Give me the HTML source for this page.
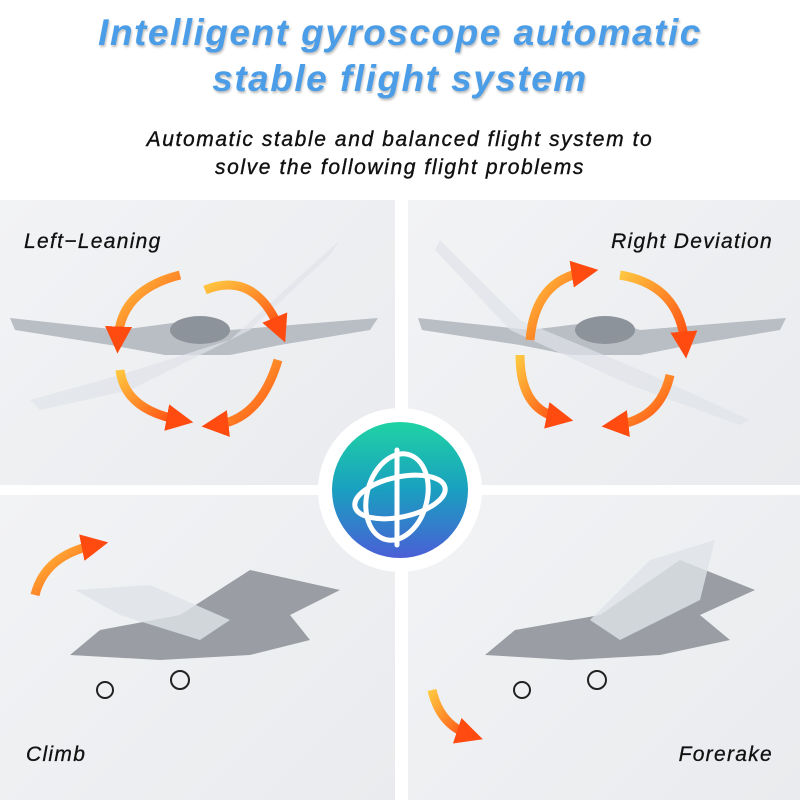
<!DOCTYPE html>
<html><head><style>
body{margin:0;width:800px;height:800px;background:#fff;overflow:hidden;position:relative;font-family:"Liberation Sans",sans-serif}
.t{position:absolute;left:0;width:800px;text-align:center;font-style:italic;font-weight:bold}
.h{color:#4a9de6;font-size:37px;letter-spacing:1.5px;text-shadow:1px 2px 2px rgba(0,0,0,.25)}
.s{color:#111;font-size:21px;font-weight:normal;letter-spacing:1.6px;-webkit-text-stroke:.4px #111}
.p{position:absolute;background:linear-gradient(135deg,#f2f3f5,#e9ebee)}
.l{position:absolute;font-style:italic;font-size:21px;color:#111;letter-spacing:1.3px;-webkit-text-stroke:.3px #111}
</style></head><body>
<div class="t h" style="top:12px">Intelligent gyroscope automatic</div>
<div class="t h" style="top:58px">stable flight system</div>
<div class="t s" style="top:128px">Automatic stable and balanced flight system to</div>
<div class="t s" style="top:156px">solve the following flight problems</div>
<div class="p" style="left:0;top:200px;width:395px;height:285px"></div>
<div class="p" style="left:408px;top:200px;width:392px;height:285px"></div>
<div class="p" style="left:0;top:495px;width:395px;height:305px"></div>
<div class="p" style="left:408px;top:495px;width:392px;height:305px"></div>
<svg style="position:absolute;left:0;top:0" width="800" height="800">
<defs>
<linearGradient id="g" x1="0" y1="0" x2="0" y2="1"><stop offset="0" stop-color="#1fd3a4"/><stop offset=".5" stop-color="#1a9fc0"/><stop offset="1" stop-color="#4a5fd6"/></linearGradient>
<linearGradient id="o" x1="0" y1="0" x2="1" y2="1"><stop offset="0" stop-color="#ffc640"/><stop offset="1" stop-color="#ff4a10"/></linearGradient>
<marker id="a" markerWidth="3" markerHeight="3" refX="1.5" refY="1.5" orient="auto"><path d="M0,0L3,1.5L0,3z" fill="#ff4a10"/></marker>
</defs>
<g fill="#c8ccd2">
<path d="M10,318 L120,330 L180,322 L200,320 L230,330 L378,318 L370,330 L280,345 L230,355 L165,355 L110,345 L15,330z" fill="#b9bec5"/>
<ellipse cx="200" cy="330" rx="30" ry="14" fill="#8d939a"/>
<path d="M30,400 L120,375 L230,340 L340,240 L330,255 L250,330 L130,390 L40,410z" fill="#dfe3e8" opacity=".7"/>
<path d="M418,318 L530,330 L610,320 L640,330 L786,318 L780,330 L690,345 L640,355 L570,355 L520,345 L422,330z" fill="#b9bec5"/>
<ellipse cx="605" cy="330" rx="30" ry="14" fill="#8d939a"/>
<path d="M440,240 L520,320 L640,370 L750,420 L740,425 L630,385 L510,330 L435,250z" fill="#dfe3e8" opacity=".7"/>
<path d="M70,655 L100,630 L180,615 L250,570 L340,590 L290,615 L310,640 L250,655 L160,660z" fill="#9a9ea4"/>
<path d="M75,590 L150,585 L230,620 L200,640 L120,615z" fill="#dfe3e8" opacity=".8"/>
<path d="M485,655 L515,630 L600,615 L680,560 L755,590 L700,615 L730,640 L660,655 L570,660z" fill="#9a9ea4"/>
<path d="M650,560 L715,540 L700,600 L620,640 L590,620z" fill="#dfe3e8" opacity=".8"/>
</g>
<g fill="none" stroke="#222" stroke-width="2">
<circle cx="105" cy="690" r="8"/><circle cx="180" cy="680" r="9"/>
<circle cx="522" cy="690" r="8"/><circle cx="597" cy="680" r="9"/>
</g>
<g fill="none" stroke="url(#o)" stroke-width="9" marker-end="url(#a)">
<path d="M180,275 Q120,290 118,340"/>
<path d="M205,290 Q255,270 280,330"/>
<path d="M120,370 Q125,410 180,420"/>
<path d="M278,360 Q260,420 215,425"/>
<path d="M530,340 Q535,280 585,272"/>
<path d="M620,275 Q680,285 685,345"/>
<path d="M520,355 Q520,410 560,418"/>
<path d="M670,375 Q660,420 615,425"/>
<path d="M35,595 Q45,555 95,545"/>
<path d="M432,690 Q440,725 470,735"/>
</g>
<circle cx="400" cy="490" r="82" fill="#fff"/>
<circle cx="400" cy="490" r="68" fill="url(#g)"/>
<g fill="none" stroke="#fff" stroke-width="5" stroke-linecap="round">
<line x1="397" y1="450" x2="397" y2="545"/>
<ellipse cx="397" cy="497" rx="30" ry="44" transform="rotate(15 397 497)"/>
<ellipse cx="400" cy="497" rx="46" ry="20" transform="rotate(-12 400 497)"/>
</g>
</svg>
<div class="l" style="left:24px;top:230px">Left−Leaning</div>
<div class="l" style="right:27px;top:230px">Right Deviation</div>
<div class="l" style="left:26px;top:743px">Climb</div>
<div class="l" style="right:27px;top:743px">Forerake</div>
</body></html>
